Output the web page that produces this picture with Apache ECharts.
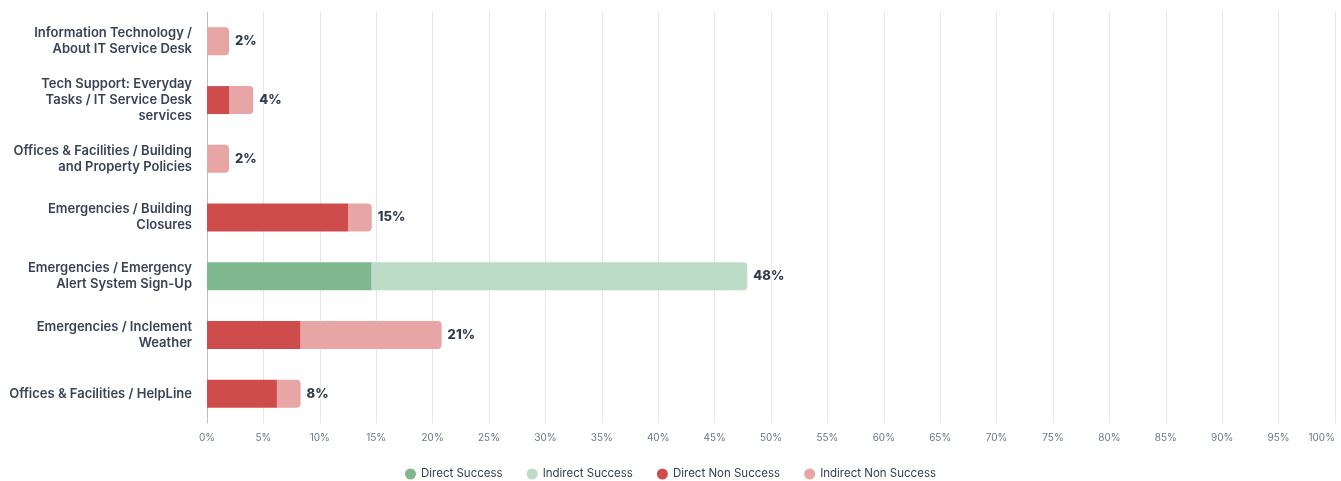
<!DOCTYPE html>
<html>
<head>
<meta charset="utf-8">
<style>
  html, body { margin: 0; padding: 0; background: #ffffff; }
  #chart { width: 1341px; height: 481px; }
</style>
<script src="https://cdn.jsdelivr.net/npm/echarts@6/dist/echarts.min.js"></script>
</head>
<body>
<div id="chart"></div>
<script>
// Topics, top to bottom
const categories = [
  'Information Technology / About IT Service Desk',
  'Tech Support: Everyday Tasks / IT Service Desk services',
  'Offices & Facilities / Building and Property Policies',
  'Emergencies / Building Closures',
  'Emergencies / Emergency Alert System Sign-Up',
  'Emergencies / Inclement Weather',
  'Offices & Facilities / HelpLine'
];

// Share of conversations (%) per outcome
const directSuccess      = [0, 0, 0, 0, 14.6, 0, 0];
const indirectSuccess    = [0, 0, 0, 0, 33.3, 0, 0];
const directNonSuccess   = [0, 2.0, 0, 12.5, 0, 8.3, 6.2];
const indirectNonSuccess = [1.95, 2.1, 1.95, 2.1, 0, 12.5, 2.1];

const seriesNames = ['Direct Success', 'Indirect Success', 'Direct Non Success', 'Indirect Non Success'];
const seriesColors = ['#7fb78f', '#bddcc8', '#cf4c4d', '#e8a5a6'];
const xTicks = { min: 0, max: 100, interval: 5 };

const totals = categories.map((_, i) =>
  directSuccess[i] + indirectSuccess[i] + directNonSuccess[i] + indirectNonSuccess[i]);

const values = [directSuccess, indirectSuccess, directNonSuccess, indirectNonSuccess];

// Word-wrap axis labels to a fixed width, without trailing spaces
const LABEL_FONT = '600 13px Inter';
const LABEL_WIDTH = 189;
const measureCtx = document.createElement('canvas').getContext('2d');
measureCtx.font = LABEL_FONT;
function wrapLabel(text) {
  const words = text.split(' ');
  const lines = [];
  let line = '';
  for (const w of words) {
    const candidate = line ? line + ' ' + w : w;
    if (line && measureCtx.measureText(candidate).width > LABEL_WIDTH) {
      lines.push(line);
      line = w;
    } else {
      line = candidate;
    }
  }
  if (line) lines.push(line);
  return lines.join('\n');
}

const chart = echarts.init(document.getElementById('chart'));

const series = values.map((arr, s) => ({
  name: seriesNames[s],
  type: 'bar',
  stack: 'total',
  barWidth: 28,
  itemStyle: { color: seriesColors[s] },
  data: arr.map((v, i) => {
    // the outermost non-zero segment of each bar gets rounded ends
    let last = -1;
    for (let k = 0; k < values.length; k++) if (values[k][i] > 0) last = k;
    return {
      value: v,
      itemStyle: { borderRadius: s === last ? [0, 4, 4, 0] : 0 }
    };
  }),
  label: s === values.length - 1 ? {
    show: true,
    position: 'right',
    distance: 6,
    formatter: p => Math.round(totals[p.dataIndex]) + '%',
    fontFamily: 'Inter',
    fontWeight: 800,
    fontSize: 13,
    color: '#333d4f'
  } : { show: false }
}));

chart.setOption({
  animation: false,
  textStyle: { fontFamily: 'Inter' },
  grid: {
    left: 207, right: 6, top: 12, bottom: 58,
    containLabel: false,
    outerBoundsMode: 'none'
  },
  legend: {
    top: 463,
    left: 'center',
    icon: 'circle',
    itemWidth: 11,
    itemHeight: 11,
    itemGap: 24,
    textStyle: { fontFamily: 'Inter', fontSize: 11.5, color: '#333d4f' },
    data: seriesNames
  },
  xAxis: {
    type: 'value',
    min: xTicks.min,
    max: xTicks.max,
    interval: xTicks.interval,
    axisLine: { show: false },
    axisTick: { show: false },
    splitLine: { show: true, lineStyle: { color: '#e6e6e6', width: 1 } },
    axisLabel: {
      formatter: '{value}%',
      fontFamily: 'Inter',
      fontSize: 10,
      color: '#6b778a',
      margin: 10,
      alignMaxLabel: 'right'
    }
  },
  yAxis: {
    type: 'category',
    inverse: true,
    data: categories,
    axisLine: { show: true, lineStyle: { color: '#bfbfbf', width: 1 } },
    axisTick: { show: false },
    axisLabel: {
      margin: 15,
      formatter: v => wrapLabel(v),
      lineHeight: 16,
      fontFamily: 'Inter',
      fontWeight: 600,
      fontSize: 13,
      color: '#3a4356',
      align: 'right'
    }
  },
  series: series
});
</script>
</body>
</html>
